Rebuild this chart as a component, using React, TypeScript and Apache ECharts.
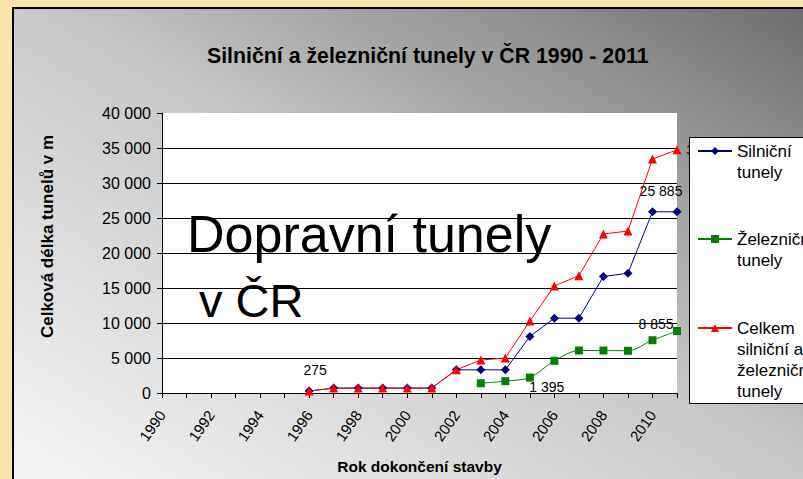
import React, { useEffect, useRef } from 'react';
import * as echarts from 'echarts';

const years = ['1990','1991','1992','1993','1994','1995','1996','1997','1998','1999','2000','2001','2002','2003','2004','2005','2006','2007','2008','2009','2010','2011'];
const silnicni = [null,null,null,null,null,null,275,700,700,700,700,700,3310,3310,3310,8070,10690,10690,16640,17110,25885,25885];
const zeleznicni = [null,null,null,null,null,null,null,null,null,null,null,null,null,1395,1690,2210,4600,6070,6070,6030,7540,8855];
const celkem = [null,null,null,null,null,null,275,700,700,700,700,700,3310,4705,5000,10280,15290,16760,22710,23140,33425,34740];

const seriesNames = ['Silniční tunely', 'Železniční tunely', 'Celkem silniční a železniční tunely'];
const legendLines = [['Silniční', 'tunely'], ['Železniční', 'tunely'], ['Celkem', 'silniční a', 'železniční', 'tunely']];
const titleText = 'Silniční a železniční tunely v ČR 1990 - 2011';
const yTitle = 'Celková délka tunelů v m';
const xTitle = 'Rok dokončení stavby';
const overlay1 = 'Dopravní tunely';
const overlay2 = 'v ČR';

const FONT = '"Liberation Sans", Arial, sans-serif';
const fmt = (v: number) => String(v).replace(/\B(?=(\d{3})+(?!\d))/g, ' ');

export default function App() {
  const ref = useRef<HTMLDivElement>(null);
  useEffect(() => {
    if (!ref.current) return;
    const chart = echarts.init(ref.current, undefined, { renderer: 'svg' });

    const withLabels = (arr: (number | null)[], labels: Record<number, any>) =>
      arr.map((v, i) => (labels[i] && v !== null ? { value: v, label: { show: true, ...labels[i] } } : v));

    const legendIconCenters = [151, 239, 328];
    const lh = 21;
    const legends = seriesNames.map((name, k) => {
      const n = legendLines[k].length;
      const blockH = (2 * n - 1) * lh;
      return {
        data: [name],
        orient: 'vertical',
        left: 697,
        top: legendIconCenters[k] - blockH / 2,
        padding: 0,
        z: 21,
        itemWidth: 34,
        itemHeight: 10,
        itemGap: 0,
        selectedMode: false,
        textStyle: { fontSize: 17, lineHeight: lh, color: '#000', fontFamily: FONT },
        formatter: () => '\n'.repeat(n - 1) + legendLines[k].join('\n'),
      };
    });

    const labelBase = { show: false, fontSize: 14, color: '#000', fontFamily: FONT, formatter: (p: any) => fmt(p.value) };

    chart.setOption({
      animation: false,
      backgroundColor: '#F8E4A8',
      title: {
        text: titleText,
        left: 207,
        top: 45,
        padding: 0,
        textStyle: { fontSize: 21.3, fontWeight: 'bold', color: '#000', fontFamily: FONT },
      },
      legend: legends,
      grid: {
        left: 162, top: 113, width: 515, height: 280,
        show: true, backgroundColor: '#ffffff', borderWidth: 0,
      },
      xAxis: {
        type: 'category',
        data: years,
        boundaryGap: false,
        name: xTitle,
        nameLocation: 'middle',
        nameGap: 65,
        nameTextStyle: { fontSize: 15.5, fontWeight: 'bold', color: '#000', fontFamily: FONT },
        axisLine: { lineStyle: { color: '#000', width: 1 } },
        axisTick: { show: true, interval: 0, length: 5, lineStyle: { color: '#000' } },
        axisLabel: { interval: 1, rotate: 55, margin: 19, fontSize: 15, color: '#000', fontFamily: FONT },
        splitLine: { show: false },
      },
      yAxis: {
        type: 'value',
        min: 0, max: 40000, interval: 5000,
        name: yTitle,
        nameLocation: 'middle',
        nameGap: 106,
        nameTextStyle: { fontSize: 17, fontWeight: 'bold', color: '#000', fontFamily: FONT, padding: [0, 0, 0, 33] },
        axisLine: { show: true, lineStyle: { color: '#000', width: 1 } },
        axisTick: { show: true, length: 5, lineStyle: { color: '#000' } },
        axisLabel: { fontSize: 16, color: '#000', margin: 11, fontFamily: FONT, formatter: (v: number) => fmt(v) },
        splitLine: { show: true, showMaxLine: false, lineStyle: { color: '#000', width: 1 } },
      },
      series: [
        {
          name: seriesNames[0], type: 'line',
          data: withLabels(silnicni, { 6: { position: 'top', offset: [6, -5] }, 21: { position: 'top', offset: [-16, -4] } }),
          symbol: 'diamond', symbolSize: 9,
          itemStyle: { color: '#000080' }, lineStyle: { color: '#000080', width: 1 },
          label: labelBase,
        },
        {
          name: seriesNames[1], type: 'line', smooth: 0.3,
          data: withLabels(zeleznicni, { 13: { position: 'inside', offset: [66, 4] }, 21: { position: 'top', offset: [-21, 9] } }),
          symbol: 'rect', symbolSize: 8,
          itemStyle: { color: '#008000' }, lineStyle: { color: '#008000', width: 1 },
          label: labelBase,
        },
        {
          name: seriesNames[2], type: 'line',
          data: withLabels(celkem, { 21: { position: 'right' } }),
          symbol: 'triangle', symbolSize: 9,
          itemStyle: { color: '#FF0000' }, lineStyle: { color: '#FF0000', width: 1 },
          label: labelBase,
        },
      ],
      graphic: [
        {
          type: 'rect', z: -10,
          shape: { x: 13, y: 8, width: 800, height: 480 },
          style: {
            fill: new echarts.graphic.LinearGradient(1, 0, 0, 1, [
              { offset: 0, color: '#6d6d6d' },
              { offset: 0.5, color: '#cacaca' },
              { offset: 1, color: '#f6f6f6' },
            ]),
            stroke: '#000', lineWidth: 2,
          },
        },
        {
          type: 'rect', z: 20, z2: 100,
          shape: { x: 689.5, y: 137.5, width: 130, height: 266 },
          style: { fill: '#fff', stroke: '#000', lineWidth: 1 },
        },
        {
          type: 'text', z: 22, x: 187, y: 234,
          style: { text: overlay1, fontSize: 52, fontFamily: FONT, fill: '#000', verticalAlign: 'middle', align: 'left' },
        },
        {
          type: 'text', z: 22, x: 199, y: 300,
          style: { text: overlay2, fontSize: 47, fontFamily: FONT, fill: '#000', verticalAlign: 'middle', align: 'left' },
        },
      ],
    });
    return () => chart.dispose();
  }, []);
  return <div ref={ref} style={{ position: 'absolute', left: 0, top: 0, width: 803, height: 479 }} />;
}
